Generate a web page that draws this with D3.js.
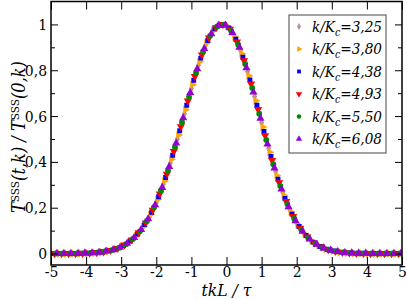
<!DOCTYPE html>
<html>
<head>
<meta charset="utf-8">
<script src="https://cdn.jsdelivr.net/npm/d3@7"></script>
<style>
  body { margin: 0; background: #fff; }
  svg text { font-family: 'DejaVu Serif', serif; font-stretch: condensed; }
</style>
</head>
<body>
<svg id="chart" width="407" height="299"></svg>
<script>
// ratios k/Kc, one series each
const kRatios = ['3,25', '3,80', '4,38', '4,93', '5,50', '6,08'];

// sampled x (tkL/tau): each series starts slightly shifted, step 0.2
const xStart = [-5, -4.967, -4.933, -4.9, -4.867, -4.833];
const xStep = 0.2;

// T^SSS(t,k)/T^SSS(0,k)
const s325 = [0,0,0,0,0.001,0.002,0.003,0.006,0.010,0.018,0.030,0.048,0.074,0.111,0.160,0.224,0.302,0.395,0.500,0.610,0.720,0.822,0.907,0.967,0.997,0.994,0.955,0.886,0.793,0.685,0.571,0.459,0.357,0.267,0.193,0.134,0.090,0.059,0.037,0.022,0.013,0.007,0.004,0.002,0.001,0,0,0,0,0,0];
const s380 = [0,0,0,0,0.001,0.002,0.004,0.007,0.011,0.020,0.032,0.051,0.079,0.118,0.169,0.236,0.317,0.412,0.517,0.628,0.738,0.837,0.919,0.975,0.999,0.990,0.946,0.872,0.776,0.667,0.552,0.442,0.341,0.254,0.182,0.126,0.084,0.055,0.034,0.020,0.012,0.007,0.004,0.002,0.001,0,0,0,0,0];
const s438 = [0,0,0,0,0.001,0.002,0.004,0.007,0.013,0.021,0.035,0.055,0.085,0.126,0.180,0.248,0.332,0.429,0.536,0.647,0.756,0.853,0.930,0.981,1.000,0.985,0.935,0.857,0.758,0.647,0.533,0.424,0.325,0.240,0.172,0.118,0.079,0.050,0.031,0.019,0.011,0.006,0.003,0.002,0.001,0,0,0,0,0];
const s493 = [0,0,0,0,0.001,0.002,0.004,0.008,0.014,0.023,0.038,0.060,0.091,0.134,0.190,0.261,0.347,0.446,0.554,0.666,0.773,0.867,0.941,0.986,1.000,0.979,0.924,0.842,0.741,0.629,0.515,0.407,0.310,0.228,0.162,0.111,0.073,0.047,0.029,0.017,0.010,0.005,0.003,0.001,0.001,0,0,0,0,0];
const s550 = [0,0,0,0,0.001,0.003,0.005,0.009,0.015,0.025,0.041,0.064,0.097,0.142,0.201,0.274,0.363,0.464,0.573,0.684,0.789,0.881,0.950,0.991,0.999,0.972,0.912,0.827,0.723,0.610,0.496,0.390,0.295,0.216,0.152,0.104,0.068,0.043,0.026,0.016,0.009,0.005,0.003,0.001,0.001,0,0,0,0,0];
const s608 = [0,0,0,0,0.002,0.003,0.005,0.010,0.016,0.027,0.044,0.069,0.104,0.151,0.212,0.288,0.379,0.482,0.592,0.702,0.806,0.894,0.959,0.995,0.997,0.964,0.900,0.810,0.704,0.590,0.477,0.373,0.281,0.204,0.143,0.097,0.063,0.040,0.024,0.014,0.008,0.004,0.002,0.001,0.001,0,0,0,0,0];
const seriesValues = [s325, s380, s438, s493, s550, s608];

const xTicks = [-5, -4, -3, -2, -1, 0, 1, 2, 3, 4, 5];
const yTicks = [0, 0.2, 0.4, 0.6, 0.8, 1];
const yTickLabels = ['0', '0,2', '0,4', '0,6', '0,8', '1'];
const yMinorTicks = [0.1, 0.3, 0.5, 0.7, 0.9];

const colors = ['#bc8f8f', '#ffa500', '#0000ff', '#ff0000', '#008b00', '#9400d3'];
const shapes = [
  { type: d3.symbolDiamond, size: 22, rot: 0 },
  { type: d3.symbolTriangle, size: 27, rot: 90 },
  { type: d3.symbolSquare, size: 24, rot: 0 },
  { type: d3.symbolTriangle, size: 29, rot: 180 },
  { type: d3.symbolCircle, size: 27, rot: 0 },
  { type: d3.symbolTriangle, size: 29, rot: 0 }
];

const margin = { top: 1.5, right: 5, bottom: 34, left: 51 };
const width = 407, height = 299;
const innerW = width - margin.left - margin.right;
const innerH = height - margin.top - margin.bottom;

const xScale = d3.scaleLinear().domain([-5, 5]).range([0, innerW]);
const yScale = d3.scaleLinear().domain([-0.05, 1.1]).range([innerH, 0]);

// shrink/grow a text so that it spans roughly the wanted width
function fitText(text, wanted) {
  const node = text.node();
  const size = parseFloat(text.style('font-size'));
  const len = node.getComputedTextLength();
  if (len > 0) text.style('font-size', (size * wanted / len).toFixed(2) + 'px');
}

const svg = d3.select('#chart');
const g = svg.append('g').attr('transform', `translate(${margin.left},${margin.top})`);

g.append('clipPath').attr('id', 'plotClip')
  .append('rect').attr('width', innerW).attr('height', innerH);

// data
const plot = g.append('g').attr('clip-path', 'url(#plotClip)');
seriesValues.forEach((vals, i) => {
  const pts = vals.map((v, j) => ({ x: xStart[i] + j * xStep, y: v }));
  plot.append('g')
    .selectAll('path')
    .data(pts)
    .enter()
    .append('path')
    .attr('d', d3.symbol().type(shapes[i].type).size(shapes[i].size))
    .attr('transform', (d) => `translate(${xScale(d.x)},${yScale(d.y)}) rotate(${shapes[i].rot})`)
    .attr('fill', colors[i]);
});

// axes, ticks pointing inwards
const xAxis = d3.axisBottom(xScale).tickValues(xTicks).tickSize(-8).tickPadding(1)
  .tickFormat((d) => String(d));
const xAxisTop = d3.axisTop(xScale).tickValues(xTicks).tickSize(-8).tickFormat('');
const yAxis = d3.axisLeft(yScale).tickValues(yTicks).tickSize(-7).tickPadding(4)
  .tickFormat((d, i) => yTickLabels[i]);
const yAxisMinor = d3.axisLeft(yScale).tickValues(yMinorTicks).tickSize(-4).tickFormat('');
const yAxisRight = d3.axisRight(yScale).tickValues(yTicks).tickSize(-7).tickFormat('');
const yAxisRightMinor = d3.axisRight(yScale).tickValues(yMinorTicks).tickSize(-4).tickFormat('');

const axisGroups = [
  g.append('g').attr('transform', `translate(0,${innerH})`).call(xAxis),
  g.append('g').call(xAxisTop),
  g.append('g').call(yAxis),
  g.append('g').call(yAxisMinor),
  g.append('g').attr('transform', `translate(${innerW},0)`).call(yAxisRight),
  g.append('g').attr('transform', `translate(${innerW},0)`).call(yAxisRightMinor)
];
axisGroups.forEach((a) => {
  a.attr('font-family', null).attr('font-size', null);
  a.select('.domain').remove();
  a.selectAll('.tick line').attr('stroke', '#000').attr('stroke-width', 1);
  a.selectAll('.tick text').attr('fill', '#000').style('font-size', '15.5px');
});

g.append('rect')
  .attr('width', innerW)
  .attr('height', innerH)
  .attr('fill', 'none')
  .attr('stroke', '#000')
  .attr('stroke-width', 1.5);

// axis titles
const xTitle = svg.append('text')
  .attr('x', margin.left + innerW / 2)
  .attr('y', 296)
  .attr('text-anchor', 'middle')
  .style('font-size', '16px')
  .style('font-style', 'italic')
  .text('tkL / τ');
fitText(xTitle, 50);

const yTitle = svg.append('text')
  .attr('transform', 'translate(25,137) rotate(-90)')
  .attr('text-anchor', 'middle')
  .style('font-size', '17px')
  .style('font-style', 'italic');
yTitle.append('tspan').text('T');
yTitle.append('tspan').style('font-size', '0.65em').style('font-style', 'normal').attr('dy', '-0.5em').text('SSS');
yTitle.append('tspan').attr('dy', '0.33em').text('(t,k) / T');
yTitle.append('tspan').style('font-size', '0.65em').style('font-style', 'normal').attr('dy', '-0.5em').text('SSS');
yTitle.append('tspan').attr('dy', '0.33em').text('(0,k)');
fitText(yTitle, 152);

// legend
const legend = g.append('g')
  .attr('class', 'legend')
  .attr('transform', `translate(${289 - margin.left},${15 - margin.top})`);

legend.append('rect')
  .attr('width', 97)
  .attr('height', 138)
  .attr('fill', '#fff')
  .attr('stroke', '#444')
  .attr('stroke-width', 1);

kRatios.forEach((k, i) => {
  const row = legend.append('g').attr('transform', `translate(0,${11.5 + i * 22.5})`);
  row.append('path')
    .attr('d', d3.symbol().type(shapes[i].type).size(shapes[i].size * 0.6))
    .attr('transform', `translate(10,0) rotate(${shapes[i].rot})`)
    .attr('fill', colors[i]);
  const t = row.append('text')
    .attr('x', 23)
    .attr('y', 5)
    .style('font-size', '15px')
    .style('font-style', 'italic');
  t.append('tspan').text('k/K');
  t.append('tspan').style('font-size', '0.7em').attr('dy', '0.4em').text('c');
  t.append('tspan').attr('dy', '-0.28em').text('=' + k);
  fitText(t, 70);
});
</script>
</body>
</html>
